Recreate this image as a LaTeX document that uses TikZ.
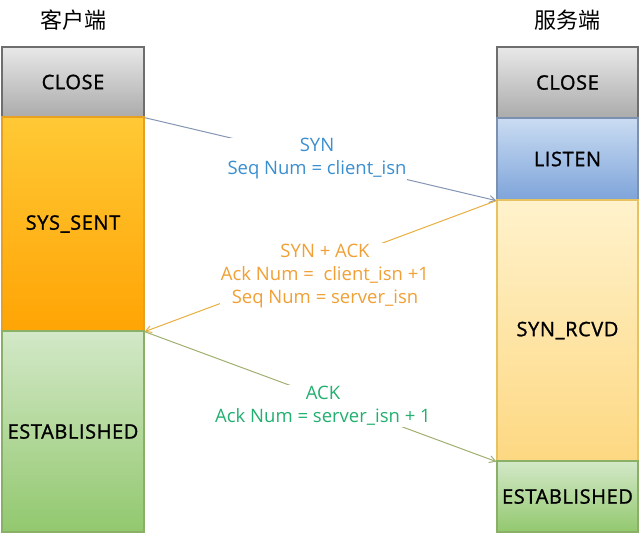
\documentclass[tikz,border=0pt]{standalone}
\usepackage{fontspec}
\setmainfont{Open Sans}
\newfontfamily\cjk{Noto Sans CJK SC}
\newfontfamily\boxfont[FakeBold=1.2,LetterSpace=3]{Open Sans}
\usetikzlibrary{arrows.meta}
\definecolor{synblue}{HTML}{3A8FD0}
\definecolor{synline}{HTML}{8496B4}
\definecolor{ackorange}{HTML}{F0A035}
\definecolor{ackline}{HTML}{E8B040}
\definecolor{fingreen}{HTML}{22B070}
\definecolor{finline}{HTML}{A0B070}
\definecolor{grayT}{HTML}{E8E8E8}
\definecolor{grayB}{HTML}{ABABAB}
\definecolor{grayD}{HTML}{6E6E6E}
\definecolor{orgT}{HTML}{FFC935}
\definecolor{orgB}{HTML}{FFA405}
\definecolor{orgD}{HTML}{E8A020}
\definecolor{grnT}{HTML}{D3E8C8}
\definecolor{grnB}{HTML}{92C86E}
\definecolor{grnD}{HTML}{8AB068}
\definecolor{bluT}{HTML}{CADCF2}
\definecolor{bluB}{HTML}{7EA4DA}
\definecolor{bluD}{HTML}{7E90B0}
\definecolor{ylwT}{HTML}{FFF2CC}
\definecolor{ylwB}{HTML}{FDD882}
\definecolor{ylwD}{HTML}{E6C260}
\tikzset{
  statebox/.style={draw, line width=1.3pt, inner sep=0pt, font=\boxfont\fontsize{20}{22}\selectfont, text=black},
  leftbox/.style={statebox, minimum width=142pt},
  rightbox/.style={statebox, minimum width=141pt},
  graybox/.style={draw=grayD, top color=grayT, bottom color=grayB},
  orangebox/.style={draw=orgD, top color=orgT, bottom color=orgB},
  greenbox/.style={draw=grnD, top color=grnT, bottom color=grnB},
  bluebox/.style={draw=bluD, top color=bluT, bottom color=bluB},
  paleyellow/.style={draw=ylwD, top color=ylwT, bottom color=ylwB},
  title/.style={font=\cjk\fontsize{22}{24}\selectfont},
  msg/.style={fill=white, inner sep=1pt, align=center, font=\fontsize{18.5}{23}\selectfont},
  conn/.style={line width=1pt, -{Straight Barb[length=6pt,width=7pt]}}
}
\begin{document}
\begin{tikzpicture}[x=1pt,y=-1pt]
\useasboundingbox[fill=white] (0,0) rectangle (640,534);
\node[title] (ct) at (73,20) {客户端};
\node[title] (st) at (567,20) {服务端};
% client column
\node[leftbox, graybox, minimum height=70pt] (cclose) at (73,82) {CLOSE};
\node[leftbox, orangebox, minimum height=214pt] (csent) at (73,224) {SYS\_SENT};
\node[leftbox, greenbox, minimum height=201pt] (cest) at (73,431.5) {ESTABLISHED};
% server column
\node[rightbox, graybox, minimum height=71pt] (sclose) at (567.5,82.5) {CLOSE};
\node[rightbox, bluebox, minimum height=82pt] (slisten) at (567.5,159) {LISTEN};
\node[rightbox, paleyellow, minimum height=261pt] (srcvd) at (567.5,330.5) {SYN\_RCVD};
\node[rightbox, greenbox, minimum height=71pt] (sest) at (567.5,496.5) {ESTABLISHED};
% connectors
\draw[conn, draw=synline] (cclose.south east) -- (slisten.south west);
\draw[conn, draw=ackline] (slisten.south west) -- (csent.south east);
\draw[conn, draw=finline] (csent.south east) -- (srcvd.south west);
% labels
\node[msg, text=synblue] (synlab) at (317,159) {SYN\\Seq Num = client\_isn};
\node[msg, text=ackorange] (synacklab) at (325,276) {SYN + ACK\\Ack Num = \ client\_isn +1\\Seq Num = server\_isn};
\node[msg, text=fingreen] (acklab) at (323,406) {ACK\\Ack Num = server\_isn + 1};
\end{tikzpicture}
\end{document}
